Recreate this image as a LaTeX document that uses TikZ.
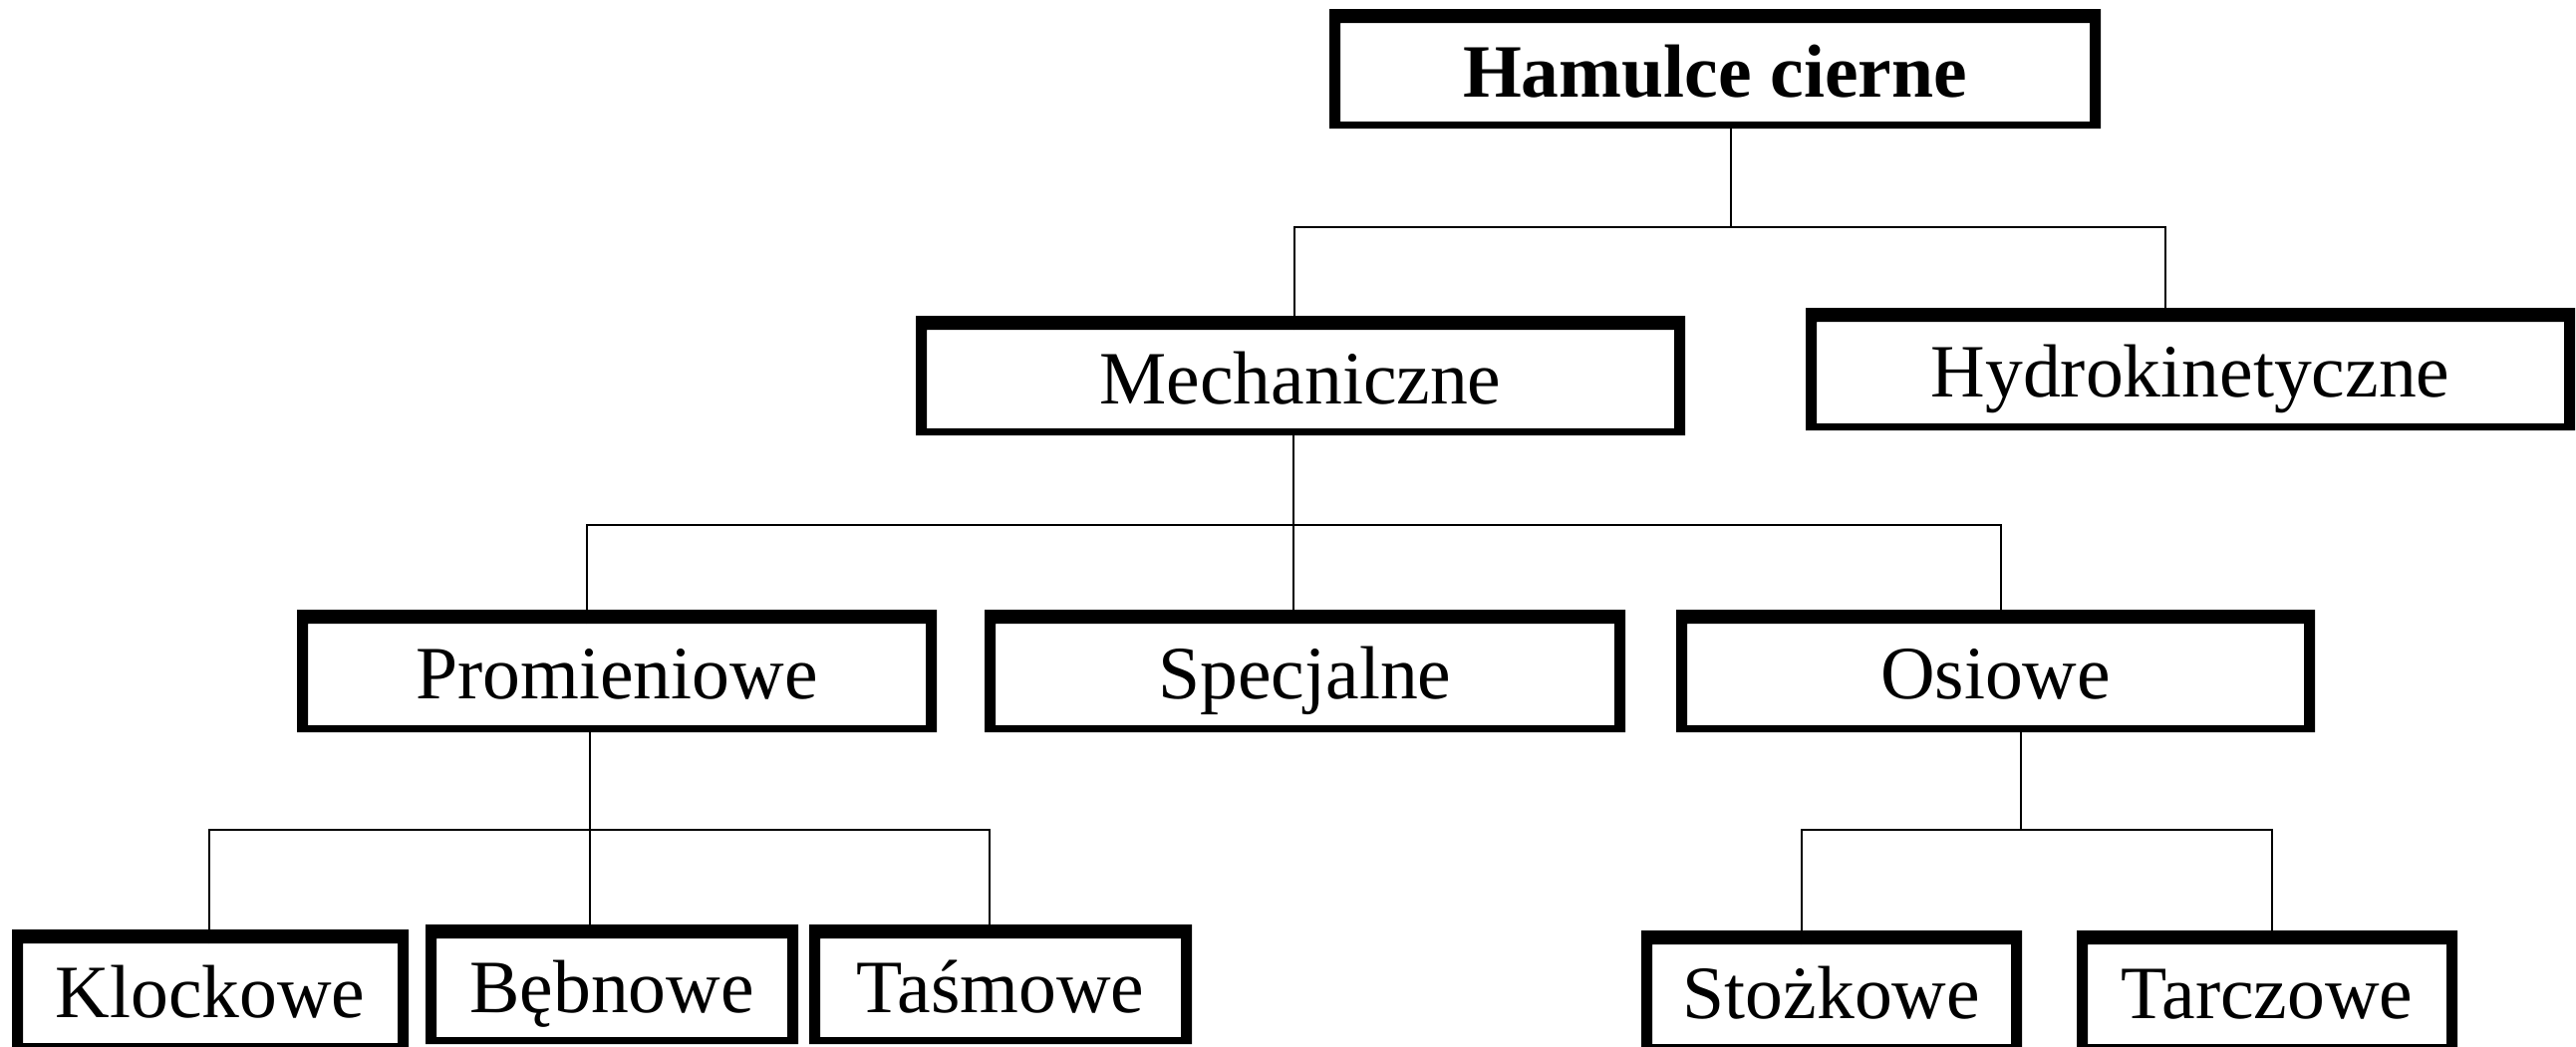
\documentclass[tikz,border=0pt]{standalone}
\usepackage{fontspec}
\setmainfont{Liberation Serif}
\begin{document}
\begin{tikzpicture}[x=0.5pt,y=-0.5pt,
  box/.style={draw=none, inner sep=0pt, outer sep=0pt, text height=24.8pt, text depth=0pt,
    font=\fontsize{37.8}{40}\selectfont, align=center},
  link/.style={line width=1pt, draw=black},
  frame/.style={fill=black, even odd rule}]
\fill[white] (0,0) rectangle (2585,1050);
\useasboundingbox (0,0) rectangle (2585,1050);
\clip (0,0) rectangle (2585,1050);

% nodes (inner rectangles of the frames)
\node[box, minimum width=376pt, minimum height=49.5pt, font=\fontsize{37.8}{40}\selectfont\bfseries] (ham) at (1721,72.5) {Hamulce cierne};
\node[box, minimum width=375pt, minimum height=49.5pt] (mech) at (1305,380.5) {Mechaniczne};
\node[box, minimum width=375pt, minimum height=51pt] (hyd) at (2198,374) {Hydrokinetyczne};
\node[box, minimum width=310pt, minimum height=51pt] (prom) at (619,677) {Promieniowe};
\node[box, minimum width=310.5pt, minimum height=51pt] (spec) at (1309.5,677) {Specjalne};
\node[box, minimum width=309.5pt, minimum height=51pt] (osi) at (2002.5,677) {Osiowe};
\node[box, minimum width=188pt, minimum height=50pt] (klo) at (211,997) {Klockowe};
\node[box, minimum width=176pt, minimum height=49.5pt] (beb) at (614,991.5) {Bębnowe};
\node[box, minimum width=181pt, minimum height=49.5pt] (tas) at (1004,991.5) {Taśmowe};
\node[box, minimum width=180pt, minimum height=50pt] (sto) at (1838,998) {Stożkowe};
\node[box, minimum width=180pt, minimum height=50pt] (tar) at (2275,998) {Tarczowe};

% junction coordinates
\coordinate (j1) at (1737,228);
\coordinate (j1l) at (1299,228);
\coordinate (j1r) at (2173,228);
\coordinate (j2) at (1298,527);
\coordinate (j2l) at (589,527);
\coordinate (j2r) at (2008,527);
\coordinate (j3) at (592,833);
\coordinate (j3l) at (210,833);
\coordinate (j3r) at (993,833);
\coordinate (j4) at (2028,833);
\coordinate (j4l) at (1808,833);
\coordinate (j4r) at (2280,833);

% connectors
\draw[link] (ham.south -| j1) -- (j1);
\draw[link] (mech.north -| j1l) -- (j1l) -- (j1r) -- (hyd.north -| j1r);
\draw[link] (mech.south -| j2) -- (spec.north -| j2);
\draw[link] (prom.north -| j2l) -- (j2l) -- (j2r) -- (osi.north -| j2r);
\draw[link] (prom.south -| j3) -- (beb.north -| j3);
\draw[link] (klo.north -| j3l) -- (j3l) -- (j3r) -- (tas.north -| j3r);
\draw[link] (osi.south -| j4) -- (j4);
\draw[link] (sto.north -| j4l) -- (j4l) -- (j4r) -- (tar.north -| j4r);

% frames
\foreach \n in {ham,mech,hyd,prom,spec,osi,klo,beb,tas,sto,tar}
  \fill[frame] ([shift={(-11,-14)}]\n.north west) rectangle ([shift={(11,7)}]\n.south east)
               (\n.north west) rectangle (\n.south east);
\end{tikzpicture}
\end{document}
